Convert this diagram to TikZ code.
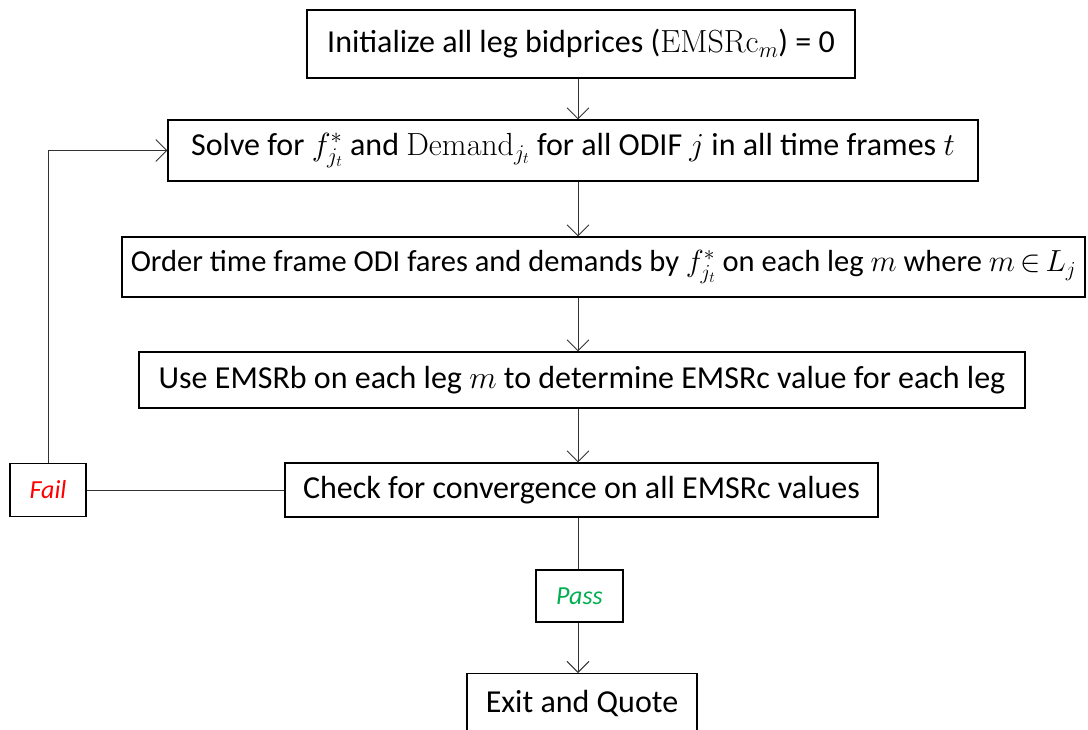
\RequirePackage{fix-cm}
\documentclass[tikz,border=0pt]{standalone}
\usepackage[no-math]{fontspec}
\setmainfont{Carlito}
\usetikzlibrary{arrows.meta}
\begin{document}
\begin{tikzpicture}[x=1pt,y=-1pt,
  box/.style={draw=black,line width=1.2pt,inner sep=0pt,align=center,
    font=\fontsize{32}{38}\selectfont},
  lbl/.style={box,font=\fontsize{26}{31}\selectfont\itshape},
  conn/.style={line width=0.9pt,draw=black!80},
  arr/.style={conn,-{Straight Barb[length=11pt,width=22pt,line width=0.9pt]}}]
\useasboundingbox (0,0) rectangle (1088,729);
\node[box,minimum width=548pt,minimum height=68pt] (b1) at (581,44)
  {Initialize all leg bidprices ($\mathrm{EMSRc}_m$) = 0};
\node[box,minimum width=810pt,minimum height=61pt] (b2) at (573,150.5)
  {Solve for $f^*_{j_t}$ and $\mathrm{Demand}_{j_t}$ for all ODIF $j$ in all time frames $t$};
\node[box,minimum width=963pt,minimum height=60pt,font=\fontsize{30.5}{36}\selectfont] (b3) at (603.5,267)
  {Order time frame ODI fares and demands by $f^*_{j_t}$ on each leg $m$ where $m\mskip\thinmuskip{\in}\mskip\thinmuskip L_j$};
\node[box,minimum width=886pt,minimum height=56pt] (b4) at (582,380)
  {Use EMSRb on each leg $m$ to determine EMSRc value for each leg};
\node[box,minimum width=593pt,minimum height=54pt] (b5) at (581.5,490)
  {Check for convergence on all EMSRc values};
\node[lbl,minimum width=76pt,minimum height=53pt,text=red] (fail) at (48,490) {Fail};
\node[lbl,minimum width=87pt,minimum height=52pt,text={rgb,255:red,0;green,176;blue,80}] (pass) at (579.5,596) {Pass};
\node[box,minimum width=230pt,minimum height=80pt,anchor=north] (exit) at (582,673) {};
\node[font=\fontsize{32}{38}\selectfont] (exitt) at (582,703) {Exit and Quote};
\coordinate (c12) at (578,0);
\draw[arr] (b1.south -| c12) -- (b2.north -| c12);
\draw[arr] (b2.south -| c12) -- (b3.north -| c12);
\draw[arr] (b3.south -| c12) -- (b4.north -| c12);
\draw[arr] (b4.south -| c12) -- (b5.north -| c12);
\draw[conn] (b5.south -| c12) -- (pass.north -| c12);
\draw[arr] (pass.south -| c12) -- (exit.north -| c12);
\draw[conn] (b5.west) -- (fail.east);
\draw[arr] (fail.north) |- (b2.west);
\end{tikzpicture}
\end{document}
